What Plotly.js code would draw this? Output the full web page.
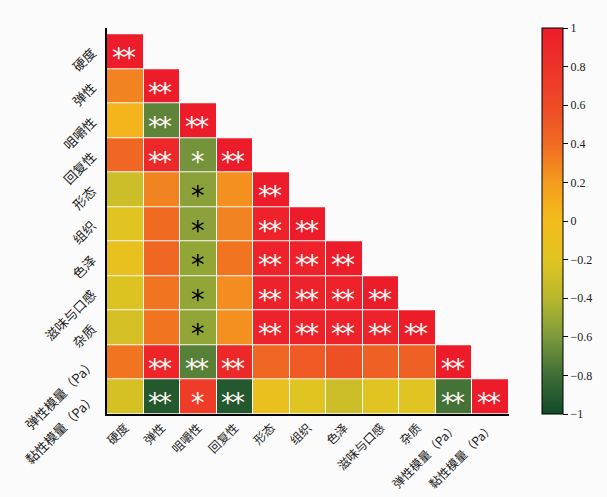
<!DOCTYPE html>
<html>
<head>
<meta charset="utf-8">
<script src="https://cdn.plot.ly/plotly-3.0.1.min.js"></script>
<style>html,body{margin:0;padding:0;background:#fbfbfb;}#chart{width:607px;height:497px;}</style>
</head>
<body>
<div id="chart"></div>
<script>
const labels = ['硬度','弹性','咀嚼性','回复性','形态','组织','色泽','滋味与口感','杂质','弹性模量（Pa）','黏性模量（Pa）'];

// lower-triangular correlation values, row by row (row i has i+1 values)
const r_hardness   = [1];
const r_spring     = [0.3, 1];
const r_chew       = [0.05, -0.7, 1];
const r_resil      = [0.42, 0.9, -0.63, 1];
const r_shape      = [-0.3, 0.3, -0.55, 0.25, 1];
const r_texture    = [-0.2, 0.4, -0.55, 0.3, 0.95, 1];
const r_color      = [-0.12, 0.42, -0.53, 0.36, 0.95, 0.95, 1];
const r_taste      = [-0.22, 0.36, -0.53, 0.26, 0.95, 0.95, 0.95, 1];
const r_impurity   = [-0.26, 0.36, -0.53, 0.25, 0.95, 0.95, 0.95, 0.95, 1];
const r_elastic    = [0.36, 0.92, -0.72, 0.9, 0.42, 0.5, 0.56, 0.46, 0.46, 1];
const r_viscous    = [-0.25, -0.92, 0.72, -0.92, -0.1, -0.2, -0.3, -0.2, -0.2, -0.78, 1];

const s_hardness   = ['**'];
const s_spring     = ['', '**'];
const s_chew       = ['', '**', '**'];
const s_resil      = ['', '**', '*', '**'];
const s_shape      = ['', '', '*', '', '**'];
const s_texture    = ['', '', '*', '', '**', '**'];
const s_color      = ['', '', '*', '', '**', '**', '**'];
const s_taste      = ['', '', '*', '', '**', '**', '**', '**'];
const s_impurity   = ['', '', '*', '', '**', '**', '**', '**', '**'];
const s_elastic    = ['', '**', '**', '**', '', '', '', '', '', '**'];
const s_viscous    = ['', '**', '*', '**', '', '', '', '', '', '**', '**'];

const corrRows = [r_hardness, r_spring, r_chew, r_resil, r_shape, r_texture, r_color, r_taste, r_impurity, r_elastic, r_viscous];
const sigRows  = [s_hardness, s_spring, s_chew, s_resil, s_shape, s_texture, s_color, s_taste, s_impurity, s_elastic, s_viscous];

const z = corrRows.map(row => labels.map((_, j) => j < row.length ? row[j] : null));

const colorscale = [
  [0.0, '#124a2a'], [0.1, '#3e6e36'], [0.2, '#7d9a3c'], [0.3, '#b8b82e'],
  [0.4, '#e0c421'], [0.5, '#f3bc1b'], [0.6, '#f49c1f'], [0.7, '#f06a22'],
  [0.8, '#ee4a27'], [1.0, '#ed1c2a']
];

const annotations = [];
sigRows.forEach((row, i) => {
  row.forEach((s, j) => {
    if (!s) return;
    const v = corrRows[i][j];
    const black = (s === '*' && v > -0.6 && v < 0);
    const txt = s.length > 1 ? '<span style="letter-spacing:-3px">' + s + '</span>' : s;
    annotations.push({
      x: labels[j], y: labels[i], xref: 'x', yref: 'y', text: txt, showarrow: false,
      font: {family: 'DejaVu Sans', size: 27, color: black ? '#000000' : '#fff8f4'},
      yshift: -6, xshift: s.length > 1 ? -1.5 : 0
    });
  });
});

const trace = {
  type: 'heatmap', x: labels, y: labels, z: z, zmin: -1, zmax: 1,
  colorscale: colorscale, xgap: 1, ygap: 1, hoverongaps: false,
  colorbar: {
    x: 1.082, xanchor: 'left', xpad: 0, y: 0.5, yanchor: 'middle', len: 1, ypad: 0,
    thickness: 21, outlinewidth: 1, outlinecolor: '#000',
    tickvals: [-1,-0.8,-0.6,-0.4,-0.2,0,0.2,0.4,0.6,0.8,1],
    ticktext: ['−1','−0.8','−0.6','−0.4','−0.2','0','0.2','0.4','0.6','0.8','1'],
    ticks: 'outside', ticklen: 5, tickcolor: '#000',
    tickfont: {family: 'Liberation Serif', size: 12, color: '#222'}
  }
};

const layout = {
  width: 607, height: 497,
  margin: {l: 107, r: 98, t: 28, b: 83},
  paper_bgcolor: '#fbfbfb', plot_bgcolor: '#fbfbfb',
  xaxis: {type: 'category', showline: true, linecolor: '#000', linewidth: 2, showgrid: false, zeroline: false,
          tickangle: -45, ticks: '', tickfont: {family: 'Noto Sans CJK SC', size: 12, color: '#222'}},
  yaxis: {type: 'category', autorange: 'reversed', showline: true, linecolor: '#000', linewidth: 2, showgrid: false, zeroline: false,
          tickangle: -45, ticks: 'outside', ticklen: 10, tickcolor: 'rgba(0,0,0,0)', tickfont: {family: 'Noto Sans CJK SC', size: 13, color: '#222'}},
  annotations: annotations
};

Plotly.newPlot('chart', [trace], layout, {displayModeBar: false, staticPlot: true});
</script>
</body>
</html>
